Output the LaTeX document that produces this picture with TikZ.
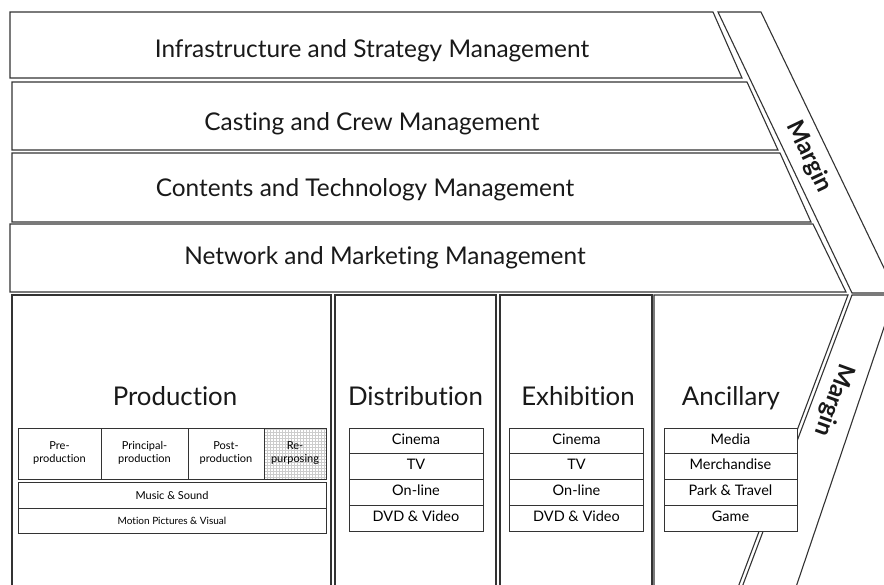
\documentclass[tikz,border=0pt]{standalone}
\usepackage{fontspec}
\setmainfont{Lato}[Ligatures=NoCommon]
\usetikzlibrary{positioning,patterns}
\newcommand\stage[2]{\strut#1\\#2\strut}

\begin{document}
\begin{tikzpicture}[x=1pt,y=-1pt,
        frame/.style={draw=black!80, line width=1.1pt, fill=white},
        title/.style={font=\fontsize{24.4}{28}\selectfont, text=black!90, anchor=base},
        paneltitle/.style={font=\fontsize{25.8}{30}\selectfont, text=black!90, anchor=base},
        margintext/.style={font=\bfseries\fontsize{24}{28}\selectfont, text=black!90},
        cell/.style={draw=black!80, line width=0.9pt, fill=white, outer sep=0pt, inner sep=1pt,
                font=\fontsize{14.5}{16}\selectfont, text height=1.5ex, text depth=.25ex},
        smallcell/.style={draw=black!80, line width=0.9pt, fill=white, outer sep=0pt, inner sep=1pt,
                font=\fontsize{11}{13}\selectfont, align=center, minimum height=51pt}]
        \clip (0,0) rectangle (884,585);
        \fill[white] (0,0) rectangle (884,585);
        \begin{scope}[every path/.style={frame}]
                \draw (10,12) -- (713,12) -- (742,78) -- (10,78) -- cycle;
                \draw (12,82) -- (747,82) -- (778,150) -- (12,150) -- cycle;
                \draw (12,153) -- (780,153) -- (811,222) -- (12,222) -- cycle;
                \draw (10,224) -- (813,224) -- (846,292) -- (10,292) -- cycle;
                \draw (718,12) -- (761,12) -- (896,293) -- (852,293) -- cycle;
                \draw (852,295) -- (895,295) -- (795,590) -- (741,590) -- cycle;
                \draw (12,295) rectangle (331,590);
                \draw (335,295) rectangle (496,590);
                \draw (500,295) rectangle (652,590);
                \draw (654,295) -- (848,295) -- (737,590) -- (654,590) -- cycle;
        \end{scope}
        \node[title] (Inf) at (372,58) {Infrastructure and Strategy Management};
        \node[title] (Cas) at (372,131) {Casting and Crew Management};
        \node[title] (Con) at (365,197) {Contents and Technology Management};
        \node[title] (Net) at (385,265) {Network and Marketing Management};
        \node[margintext, rotate=-64.5] (M1) at (809,157) {Margin};
        \node[margintext, rotate=-110] (M2) at (834,400) {Margin};
        \node[paneltitle] (Prod) at (175,406) {Production};
        \node[paneltitle] (Dist) at (415.5,406) {Distribution};
        \node[paneltitle] (Exh) at (578,406) {Exhibition};
        \node[paneltitle] (Anc) at (731,406) {Ancillary};
        \begin{scope}[every node/.style={smallcell}]
                \node[minimum width=83pt] (Pre) at (59.5,453.5) {\stage{Pre-}{production}};
                \node[minimum width=87pt, right=0pt of Pre] (Pri) {\stage{Principal-}{production}};
                \node[minimum width=76pt, right=0pt of Pri] (Post) {\stage{Post-}{production}};
                \node[minimum width=62pt, right=0pt of Post, pattern=grid, pattern color=black!20] (Re) {\stage{Re-}{purposing}};
                \node[minimum width=308pt, minimum height=26pt] (Mus) at (172,495) {Music \& Sound};
                \node[minimum width=308pt, minimum height=25pt, below=0pt of Mus,
                        font=\fontsize{10}{12}\selectfont] (Mot) {Motion Pictures \& Visual};
        \end{scope}
        \begin{scope}[every node/.style={cell, minimum width=134pt, minimum height=25.75pt}]
                \node (D1) at (416,441) {Cinema};
                \node[below=0pt of D1] (D2) {TV};
                \node[below=0pt of D2] (D3) {On-line};
                \node[below=0pt of D3] (D4) {DVD \& Video};
                \node (E1) at (576.5,441) {Cinema};
                \node[below=0pt of E1] (E2) {TV};
                \node[below=0pt of E2] (E3) {On-line};
                \node[below=0pt of E3] (E4) {DVD \& Video};
                \node[minimum width=133pt] (A1) at (730.5,441) {Media};
                \node[minimum width=133pt, below=0pt of A1] (A2) {Merchandise};
                \node[minimum width=133pt, below=0pt of A2] (A3) {Park \& Travel};
                \node[minimum width=133pt, below=0pt of A3] (A4) {Game};
        \end{scope}
\end{tikzpicture}
\end{document}
